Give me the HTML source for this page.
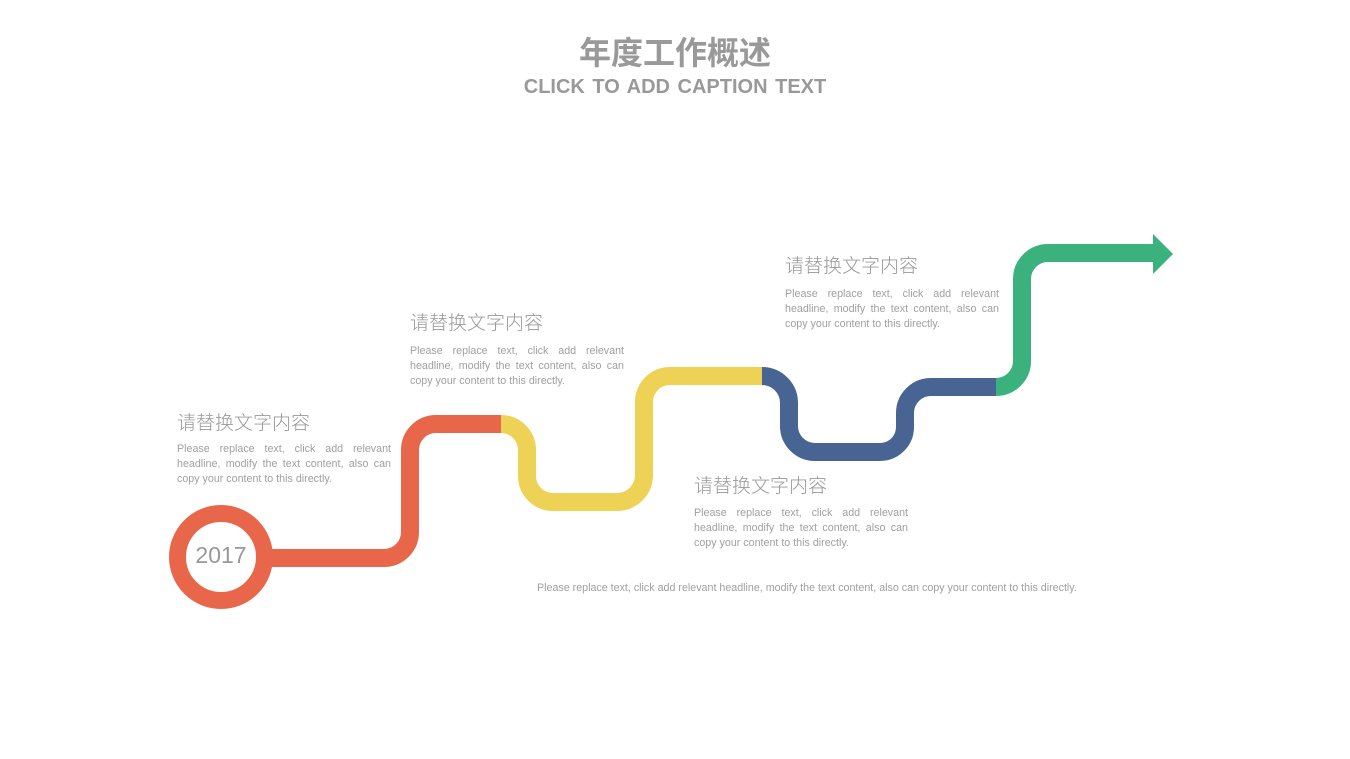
<!DOCTYPE html>
<html><head><meta charset="utf-8"><style>
body{margin:0;width:1350px;height:759px;background:#fff;position:relative;overflow:hidden;font-family:"Liberation Sans","Noto Sans CJK SC",sans-serif;color:#999}
.t{position:absolute;left:0;width:1350px;text-align:center;font-weight:bold;color:#999}
.h{position:absolute;font-size:19px;color:#999;white-space:nowrap;font-family:"Liberation Sans","Noto Sans CJK SC",sans-serif;font-weight:300}
.p{position:absolute;width:214px;font-size:10.7px;line-height:15px;text-align:justify;color:#a0a0a0}
</style></head><body>
<div class="t" style="top:35px;font-size:32px;line-height:36px">年度工作概述</div>
<div class="t" style="top:75px;font-size:20px;line-height:24px;word-spacing:2px">CLICK TO ADD CAPTION  TEXT</div>
<svg width="1350" height="759" style="position:absolute;left:0;top:0" fill="none" stroke-width="18">
<circle cx="221" cy="557" r="43.5" stroke="#E8664A" stroke-width="17"/>
<path d="M258 558 H384 A26 26 0 0 0 410 532 V450 A26 26 0 0 1 436 424 H501" stroke="#E8664A"/>
<path d="M501 424 A26 26 0 0 1 527 450 V476 A26 26 0 0 0 553 502 H617 A27 27 0 0 0 644 475 V402 A26 26 0 0 1 670 376 H762" stroke="#EDD255"/>
<path d="M762 376 A27 27 0 0 1 789 403 V426 A26 26 0 0 0 815 452 H880 A25 25 0 0 0 905 427 V413 A26 26 0 0 1 931 387 H996" stroke="#486492"/>
<path d="M996 387 A26 26 0 0 0 1022 361 V279 A26 26 0 0 1 1048 253 H1155" stroke="#3BB27E"/>
<polygon points="1153,234 1173,254 1153,274" fill="#3BB27E" stroke="none"/>
</svg>
<div style="position:absolute;left:177px;top:542px;width:88px;text-align:center;font-size:23px;color:#999">2017</div>
<div class="h" style="left:177px;top:408px">请替换文字内容</div>
<div class="p" style="left:177px;top:442px">Please replace text, click add relevant headline, modify the text content, also can copy your content to this directly.</div>
<div class="h" style="left:410px;top:308px">请替换文字内容</div>
<div class="p" style="left:410px;top:344px">Please replace text, click add relevant headline, modify the text content, also can copy your content to this directly.</div>
<div class="h" style="left:785px;top:251px">请替换文字内容</div>
<div class="p" style="left:785px;top:287px">Please replace text, click add relevant headline, modify the text content, also can copy your content to this directly.</div>
<div class="h" style="left:694px;top:471px">请替换文字内容</div>
<div class="p" style="left:694px;top:506px">Please replace text, click add relevant headline, modify the text content, also can copy your content to this directly.</div>
<div style="position:absolute;left:537px;top:582px;font-size:10.7px;color:#a0a0a0;white-space:nowrap">Please replace text, click add relevant headline, modify the text content, also can copy your content to this directly.</div>
</body></html>
